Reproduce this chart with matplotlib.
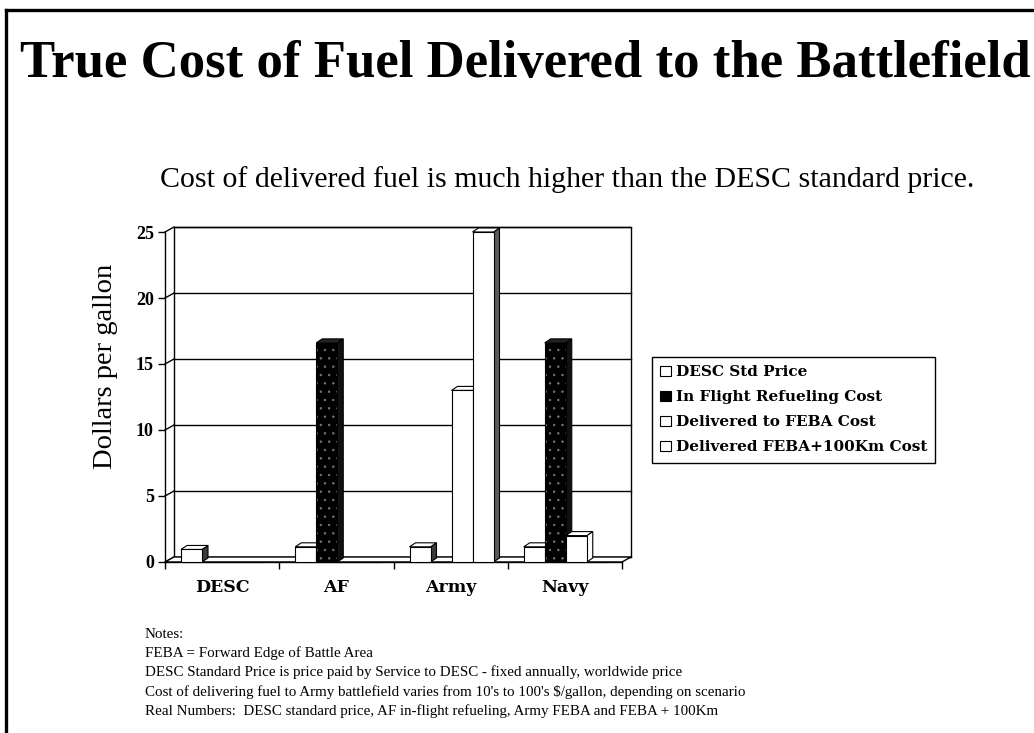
import matplotlib
matplotlib.use("Agg")
import matplotlib.pyplot as plt
from matplotlib.patches import Polygon, Patch
from matplotlib.lines import Line2D

# ---------------- data ----------------
categories = ["DESC", "AF", "Army", "Navy"]
series_names = ["DESC Std Price", "In Flight Refueling Cost",
                "Delivered to FEBA Cost", "Delivered FEBA+100Km Cost"]
desc_std_price = [0.95, 1.15, 1.15, 1.15]
in_flight_cost = [0, 16.6, 0, 16.6]
feba_cost = [0, 0, 13.0, 2.0]
feba100_cost = [0, 0, 25.0, 0]
y_ticks = [0, 5, 10, 15, 20, 25]

title = "True Cost of Fuel Delivered to the Battlefield"
subtitle = "Cost of delivered fuel is much higher than the DESC standard price."
ylabel = "Dollars per gallon"
notes = [
    "Notes:",
    "FEBA = Forward Edge of Battle Area",
    "DESC Standard Price is price paid by Service to DESC - fixed annually, worldwide price",
    "Cost of delivering fuel to Army battlefield varies from 10's to 100's $/gallon, depending on scenario",
    "Real Numbers:  DESC standard price, AF in-flight refueling, Army FEBA and FEBA + 100Km",
]

series = [desc_std_price, in_flight_cost, feba_cost, feba100_cost]
front_colors = ["white", "black", "white", "white"]
side_colors = ["#3a3a3a", "#111111", "white", "#5a5a5a"]
top_colors = ["white", "#222222", "white", "white"]

SERIF = ["Liberation Serif", "DejaVu Serif"]
WIDE_SERIF = ["DejaVu Serif"]

W_PX, H_PX = 1034, 733
fig = plt.figure(figsize=(W_PX / 100, H_PX / 100), dpi=100)
plt.rcParams["hatch.linewidth"] = 0.5

def fx(px):
    return px / W_PX

def fy(py):
    return 1 - py / H_PX

# slide frame
fig.add_artist(Line2D([fx(6), fx(1034)], [fy(10), fy(10)], color="black", lw=2.4))
fig.add_artist(Line2D([fx(6), fx(6)], [fy(10), fy(733)], color="black", lw=2.4))

# titles
fig.text(fx(525), fy(77), title, family=SERIF, weight="bold", fontsize=38,
         ha="center", va="baseline")
fig.text(fx(567), fy(187), subtitle, family=SERIF, fontsize=21.5,
         ha="center", va="baseline")

# ---------------- axes (front plane) ----------------
x0, x1, y0, y1 = 165, 622, 562, 232
ax = fig.add_axes([fx(x0), fy(y0), fx(x1) - fx(x0), fy(y1) - fy(y0)])
ax.set_xlim(0, 4)
ax.set_ylim(0, 25)
ax.patch.set_visible(False)

px_per_cat = (x1 - x0) / 4
px_per_unit = (y0 - y1) / 25
DX = 9 / px_per_cat
DY = 5 / px_per_unit
BDX = 6 / px_per_cat
BDY = 4 / px_per_unit

lk = dict(color="black", lw=1.0, clip_on=False)
# back wall
ax.add_patch(Polygon([(DX, DY), (4 + DX, DY), (4 + DX, 25 + DY), (DX, 25 + DY)],
                     closed=True, fc="white", ec="black", lw=1.0, clip_on=False, zorder=0))
for v in y_ticks:
    ax.plot([DX, 4 + DX], [v + DY, v + DY], zorder=1, **lk)
    ax.plot([0, DX], [v, v + DY], zorder=1, **lk)
# floor
ax.add_patch(Polygon([(0, 0), (4, 0), (4 + DX, DY), (DX, DY)], closed=True,
                     fc="white", ec="black", lw=1.0, clip_on=False, zorder=1))

# bars
bar_w = 21 / px_per_cat
offset = 16 / px_per_cat
for i, vals in enumerate(series):
    lefts = [c + offset + i * bar_w for c in range(len(categories))]
    z = 3 + i
    for xl, v in zip(lefts, vals):
        if v <= 0:
            continue
        ax.add_patch(Polygon([(xl + bar_w, 0), (xl + bar_w, v),
                              (xl + bar_w + BDX, v + BDY), (xl + bar_w + BDX, BDY)],
                             closed=True, fc=side_colors[i], ec="black", lw=0.8,
                             zorder=z, clip_on=False))
        ax.add_patch(Polygon([(xl, v), (xl + bar_w, v), (xl + bar_w + BDX, v + BDY),
                              (xl + BDX, v + BDY)], closed=True, fc=top_colors[i],
                             ec="black", lw=0.8, zorder=z, clip_on=False))
    if front_colors[i] == "black":
        ax.bar(lefts, vals, width=bar_w, align="edge", color="black",
               hatch="..", edgecolor="#7a7a7a", linewidth=0, zorder=z + 0.1,
               clip_on=False)
        ax.bar(lefts, vals, width=bar_w, align="edge", fill=False,
               edgecolor="black", linewidth=0.8, zorder=z + 0.2, clip_on=False)
    else:
        ax.bar(lefts, vals, width=bar_w, align="edge", color=front_colors[i],
               edgecolor="black", linewidth=0.8, zorder=z + 0.1, clip_on=False)

for s in ["top", "right"]:
    ax.spines[s].set_visible(False)
ax.spines["left"].set_linewidth(1.0)
ax.spines["bottom"].set_linewidth(1.0)
ax.spines["left"].set_zorder(2)
ax.spines["bottom"].set_zorder(2)

ax.set_yticks(y_ticks)
ax.set_yticklabels([str(v) for v in y_ticks], family=SERIF, weight="bold", fontsize=13)
ax.tick_params(axis="y", direction="out", length=5, width=1.0, pad=3)
ax.set_xticks([0, 1, 2, 3, 4])
ax.set_xticklabels([])
ax.tick_params(axis="x", which="major", direction="out", length=5, width=1.0)
ax.set_xticks([c + 0.5 for c in range(len(categories))], minor=True)
ax.set_xticklabels(categories, minor=True, family=WIDE_SERIF, weight="bold", fontsize=12.5)
ax.tick_params(axis="x", which="minor", length=0, pad=12)

ax.set_ylabel(ylabel, family=SERIF, fontsize=20.5)
ax.yaxis.set_label_coords(fx(118 - x0) / (fx(x1) - fx(x0)),
                          (fy(366) - fy(y0)) / (fy(y1) - fy(y0)))

# legend
handles = [Patch(facecolor=c, edgecolor="black", linewidth=0.8) for c in front_colors]
leg = fig.legend(handles, series_names, loc="upper left",
                 bbox_to_anchor=(fx(652), fy(357)), frameon=True, fancybox=False,
                 edgecolor="black", framealpha=1,
                 prop=dict(family=WIDE_SERIF, weight="bold", size=11),
                 handlelength=0.7, handleheight=0.7, handletextpad=0.3,
                 labelspacing=0.72, borderpad=0.55, borderaxespad=0)
leg.get_frame().set_linewidth(1.0)

# notes
for k, line in enumerate(notes):
    fig.text(fx(145), fy(634 + k * 19.3), line, family=SERIF, fontsize=10.8,
             ha="left", va="center")

fig.savefig("out.png", dpi=100, facecolor="white")
